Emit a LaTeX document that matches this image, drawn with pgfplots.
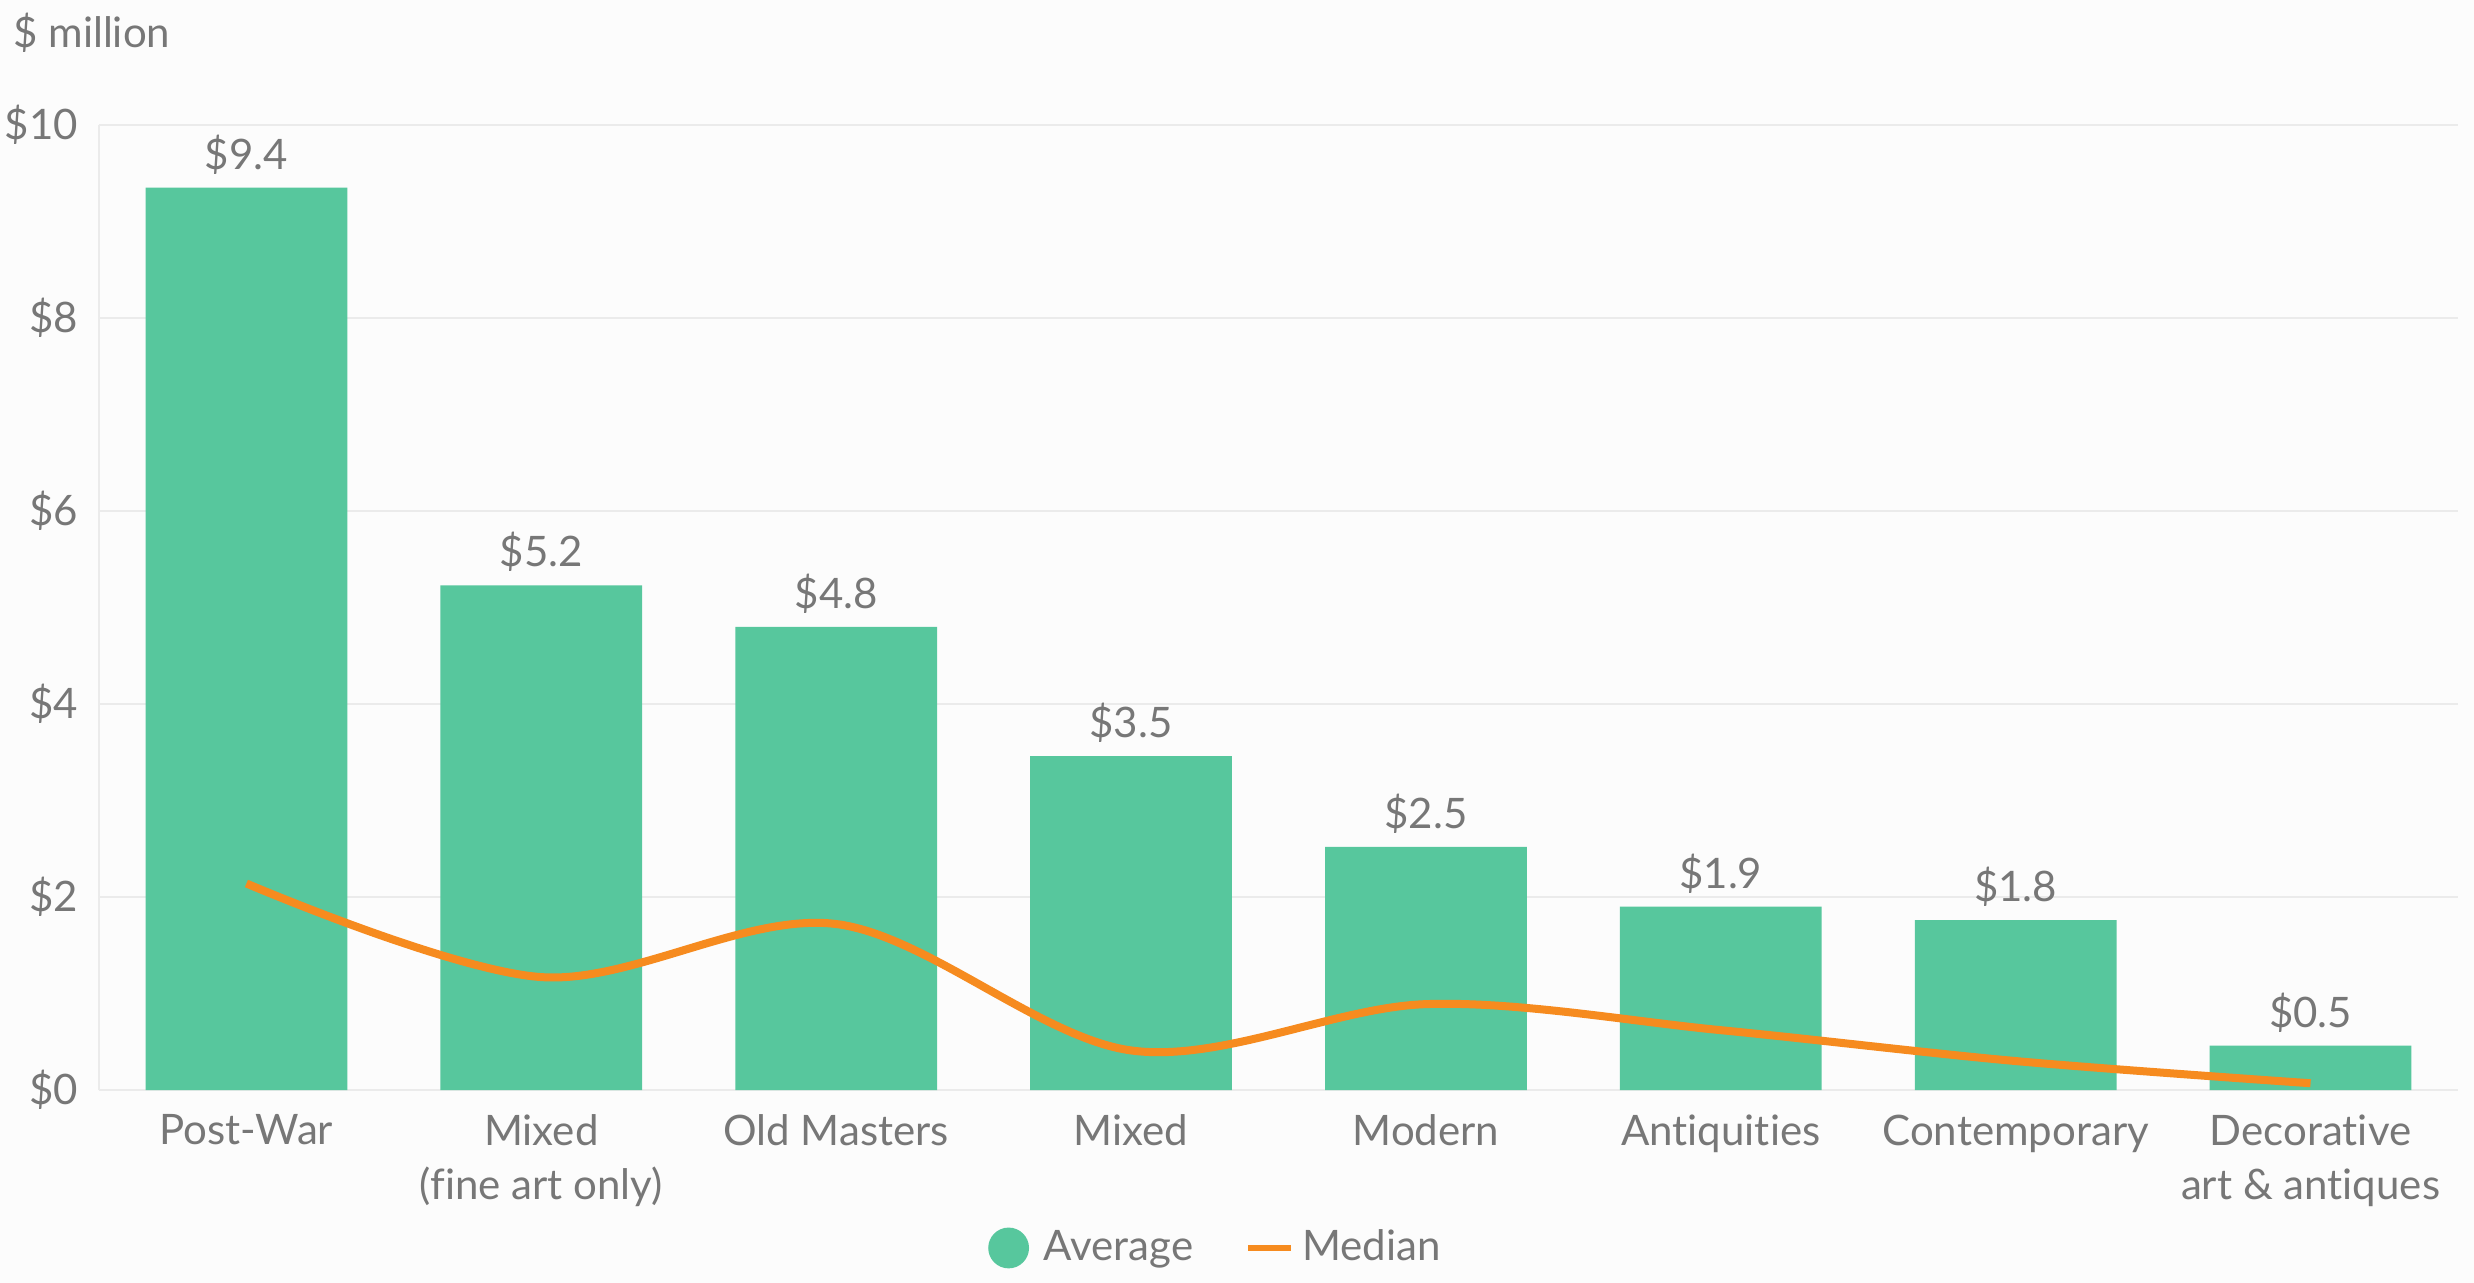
\documentclass[border=0pt]{standalone}
\usepackage{pgfplots}
\pgfplotsset{compat=1.18}
\usepackage{fontspec}
\setmainfont{Lato}[Ligatures=NoCommon]
\definecolor{barc}{HTML}{57C79D}
\definecolor{medc}{HTML}{F68B1F}
\definecolor{txt}{HTML}{777777}
\definecolor{bg}{HTML}{FCFCFC}
\definecolor{gridc}{HTML}{EBEBEB}
\newcommand{\fs}{\fontsize{10.5}{13.5}\selectfont}
\begin{document}
\begin{tikzpicture}
\fill[bg] (0,0) rectangle (618.5pt,-320.75pt);
\node[anchor=base west, inner sep=0pt, text=txt, font=\fs] at (3.15pt,-11.8pt) {\$ million};
\begin{axis}[
  at={(24.75pt,-272.5pt)}, anchor=south west,
  scale only axis, width=589.75pt, height=241.25pt,
  xmin=-0.5, xmax=7.5, ymin=0, ymax=10,
  axis x line*=bottom, axis y line*=left,
  axis line style={draw=gridc, line width=0.7pt},
  ytick={0,2,4,6,8,10},
  yticklabels={\$0,\$2,\$4,\$6,\$8,\$10},
  xtick={0,1,2,3,4,5,6,7},
  xticklabels={Post-War,Mixed\\(fine art only),Old Masters,Mixed,Modern,Antiquities,Contemporary,Decorative\\art \& antiques},
  major tick length=0pt,
  tick style={draw=none},
  ymajorgrids, grid style={draw=gridc, line width=0.5pt},
  tick label style={font=\fs, text=txt},
  yticklabel style={anchor=east, inner sep=0pt, xshift=-5.05pt},
  xticklabel style={align=center, anchor=north, inner sep=0pt, yshift=-6pt},
  clip=false,
  legend columns=-1,
  legend style={at={(0.4745,-0.1637)}, anchor=center, draw=none, fill=none, font=\fs, text=txt,
    /tikz/every odd column/.append style={column sep=0pt},
    /tikz/every even column/.append style={column sep=11pt}},
]
\addplot[ybar, bar width=0.684, fill=barc, draw=none,
  point meta=explicit symbolic,
  nodes near coords,
  nodes near coords style={anchor=base, inner sep=0pt, yshift=4.6pt, font=\fs, text=txt},
  legend image code/.code={\fill[barc] (0.1875cm,0) circle (5.1pt); \path (0.1875cm+6.8pt,0);}]
coordinates {
(0,9.35) [\$9.4]
(1,5.23) [\$5.2]
(2,4.80) [\$4.8]
(3,3.46) [\$3.5]
(4,2.52) [\$2.5]
(5,1.90) [\$1.9]
(6,1.76) [\$1.8]
(7,0.46) [\$0.5]
};
\addlegendentry{Average}
\addplot[medc, line width=2pt, smooth, tension=0.55, mark=none,
  legend image code/.code={\draw[medc, line width=1.5pt] (0cm,0) -- (0.375cm,0);}]
coordinates {
(0,2.14) (1,1.17) (2,1.72) (3,0.41) (4,0.89) (5,0.62) (6,0.30) (7,0.07)
};
\addlegendentry{Median}
\end{axis}
\pgfresetboundingbox
\path[use as bounding box] (0,0) rectangle (618.5pt,-320.75pt);
\end{tikzpicture}
\end{document}
